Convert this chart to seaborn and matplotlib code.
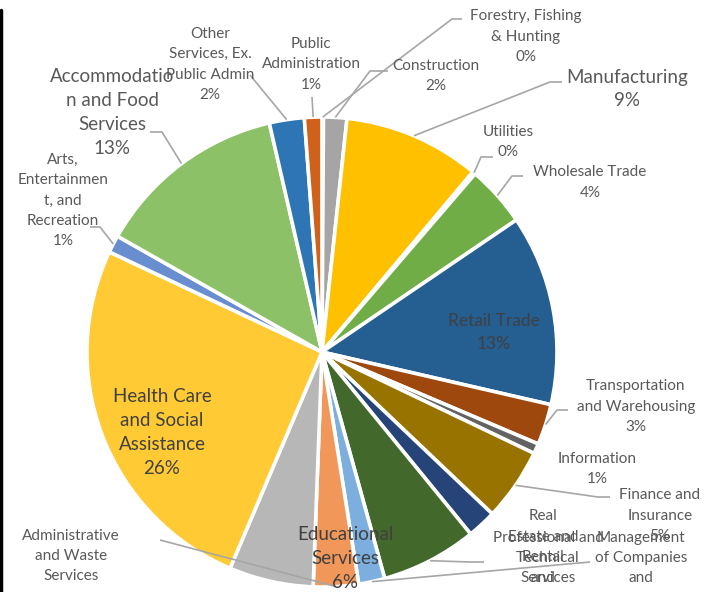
import numpy as np
import matplotlib
matplotlib.use("Agg")
import matplotlib.pyplot as plt
from matplotlib.lines import Line2D
import seaborn as sns

# slices, clockwise from 12 o'clock (share of establishments, %)
industries = ["Agriculture, Forestry, Fishing & Hunting", "Construction", "Manufacturing",
              "Utilities", "Wholesale Trade", "Retail Trade", "Transportation and Warehousing",
              "Information", "Finance and Insurance", "Real Estate and Rental and Leasing",
              "Professional and Technical Services", "Management of Companies and Enterprises",
              "Administrative and Waste Services", "Educational Services",
              "Health Care and Social Assistance", "Arts, Entertainment, and Recreation",
              "Accommodation and Food Services", "Other Services, Ex. Public Admin",
              "Public Administration"]
shares = [0.1, 1.6, 9.4, 0.2, 4.2, 13.1, 2.8, 0.7, 5.0, 2.0, 6.6, 1.8, 3.1, 5.8,
          25.6, 1.2, 13.2, 2.4, 1.2]
colors = ["#4472C4", "#A5A5A5", "#FFC000", "#5B9BD5", "#70AD47", "#255E91", "#9E480E",
          "#636363", "#997300", "#264478", "#43682B", "#7CAFDD", "#F1975A", "#B7B7B7",
          "#FFCA33", "#698ED0", "#8CC168", "#2E75B6", "#D0611A"]

# label text as wrapped in the chart; pct line is cut off for some labels at the bottom
label_lines = [["Forestry, Fishing", "& Hunting"], ["Construction"], ["Manufacturing"],
               ["Utilities"], ["Wholesale Trade"], ["Retail Trade"],
               ["Transportation", "and Warehousing"], ["Information"], ["Finance and", "Insurance"],
               ["Real", "Estate and", "Rental", "and"], ["Professional and", "Technical", "Services"],
               ["Management", "of Companies", "and"], ["Administrative", "and Waste", "Services"],
               ["Educational", "Services"], ["Health Care", "and Social", "Assistance"],
               ["Arts,", "Entertainmen", "t, and", "Recreation"],
               ["Accommodatio", "n and Food", "Services"], ["Other", "Services, Ex.", "Public Admin"],
               ["Public", "Administration"]]
show_pct = [True, True, True, True, True, True, True, True, True, False, False, False, False,
            True, True, True, True, True, True]

W, H = 719, 592
sns.set_style("white")
plt.rcParams["font.family"] = ["Lato", "DejaVu Sans"]

fig = plt.figure(figsize=(W / 100, H / 100), dpi=100)
ax = fig.add_axes([0, 0, 1, 1])

cx, cy, R = 322, H - 352, 235
wedges, _ = ax.pie(shares, colors=colors, startangle=90, counterclock=False,
                   center=(cx, cy), radius=R,
                   wedgeprops=dict(edgecolor="white", linewidth=2.6))
ax.set_xlim(0, W)
ax.set_ylim(0, H)
ax.set_aspect("equal")
ax.axis("off")

total = sum(shares)

# label placement: (center x, first line y, last line y) in pixels from top, size, colour
SMALL, BIG = 11, 13.5
spacing = {SMALL: 1.58, BIG: 1.5, 12.5: 1.5}
layout = {
    0: (526, 15, 58, SMALL, "#595959"),
    1: (436, 65, 87, SMALL, "#595959"),
    2: (627, 77, 101, BIG, "#595959"),
    3: (508, 131, 153, SMALL, "#595959"),
    4: (590, 172, 193, SMALL, "#595959"),
    5: (494, 320, 345, 12.5, "#404040"),
    6: (636, 385, 428, SMALL, "#595959"),
    7: (597, 458, 480, SMALL, "#595959"),
    8: (660, 494, 537, SMALL, "#595959"),
    9: (543, 515, 579, SMALL, "#595959"),
    10: (548, 537, 579, SMALL, "#595959"),
    11: (641, 537, 579, SMALL, "#595959"),
    12: (71, 535, 577, SMALL, "#595959"),
    13: (345, 535, 582, BIG, "#404040"),
    14: (162, 396, 469, BIG, "#404040"),
    15: (63, 158, 243, SMALL, "#595959"),
    16: (112, 77, 148, BIG, "#595959"),
    17: (210, 33, 96, SMALL, "#595959"),
    18: (311, 43, 86, SMALL, "#595959"),
}
for i, (x, y1, y2, fs, col) in layout.items():
    lines = list(label_lines[i])
    if show_pct[i]:
        lines.append(f"{int(100 * shares[i] / total + 0.5)}%")
    ax.text(x, H - (y1 + y2) / 2, "\n".join(lines), ha="center", va="center",
            fontsize=fs, color=col, linespacing=spacing[fs], zorder=5)

# leader lines: label end (elbow points) -> slice rim at mid-angle
leaders = {
    0: [(462, 19), (452, 19)],
    1: [(388, 71), (370, 71)],
    2: [(562, 82), (550, 82)],
    3: [(493, 157), (481, 157)],
    4: [(523, 176), (512, 176)],
    6: [(568, 410), (557, 410)],
    8: [(610, 497), (598, 497)],
    10: [(484, 562), (470, 562)],
    11: [(590, 562)],
    12: [(160, 540)],
    15: [(90, 227), (100, 227)],
    16: [(150, 132), (162, 132)],
    17: [(250, 75)],
    18: [(312, 97)],
}
for i, pts in leaders.items():
    w = wedges[i]
    mid = np.deg2rad((w.theta1 + w.theta2) / 2)
    rim = (cx + R * np.cos(mid), cy + R * np.sin(mid))
    xs = [p[0] for p in pts] + [rim[0]]
    ys = [H - p[1] for p in pts] + [rim[1]]
    ax.plot(xs, ys, color="#A6A6A6", lw=1.2, zorder=4, solid_capstyle="butt")

# chart frame edge on the left
fig.add_artist(Line2D([1.2 / W, 1.2 / W], [0, 1 - 10 / H], color="black", lw=2.5))

fig.savefig("out.png", dpi=100)
